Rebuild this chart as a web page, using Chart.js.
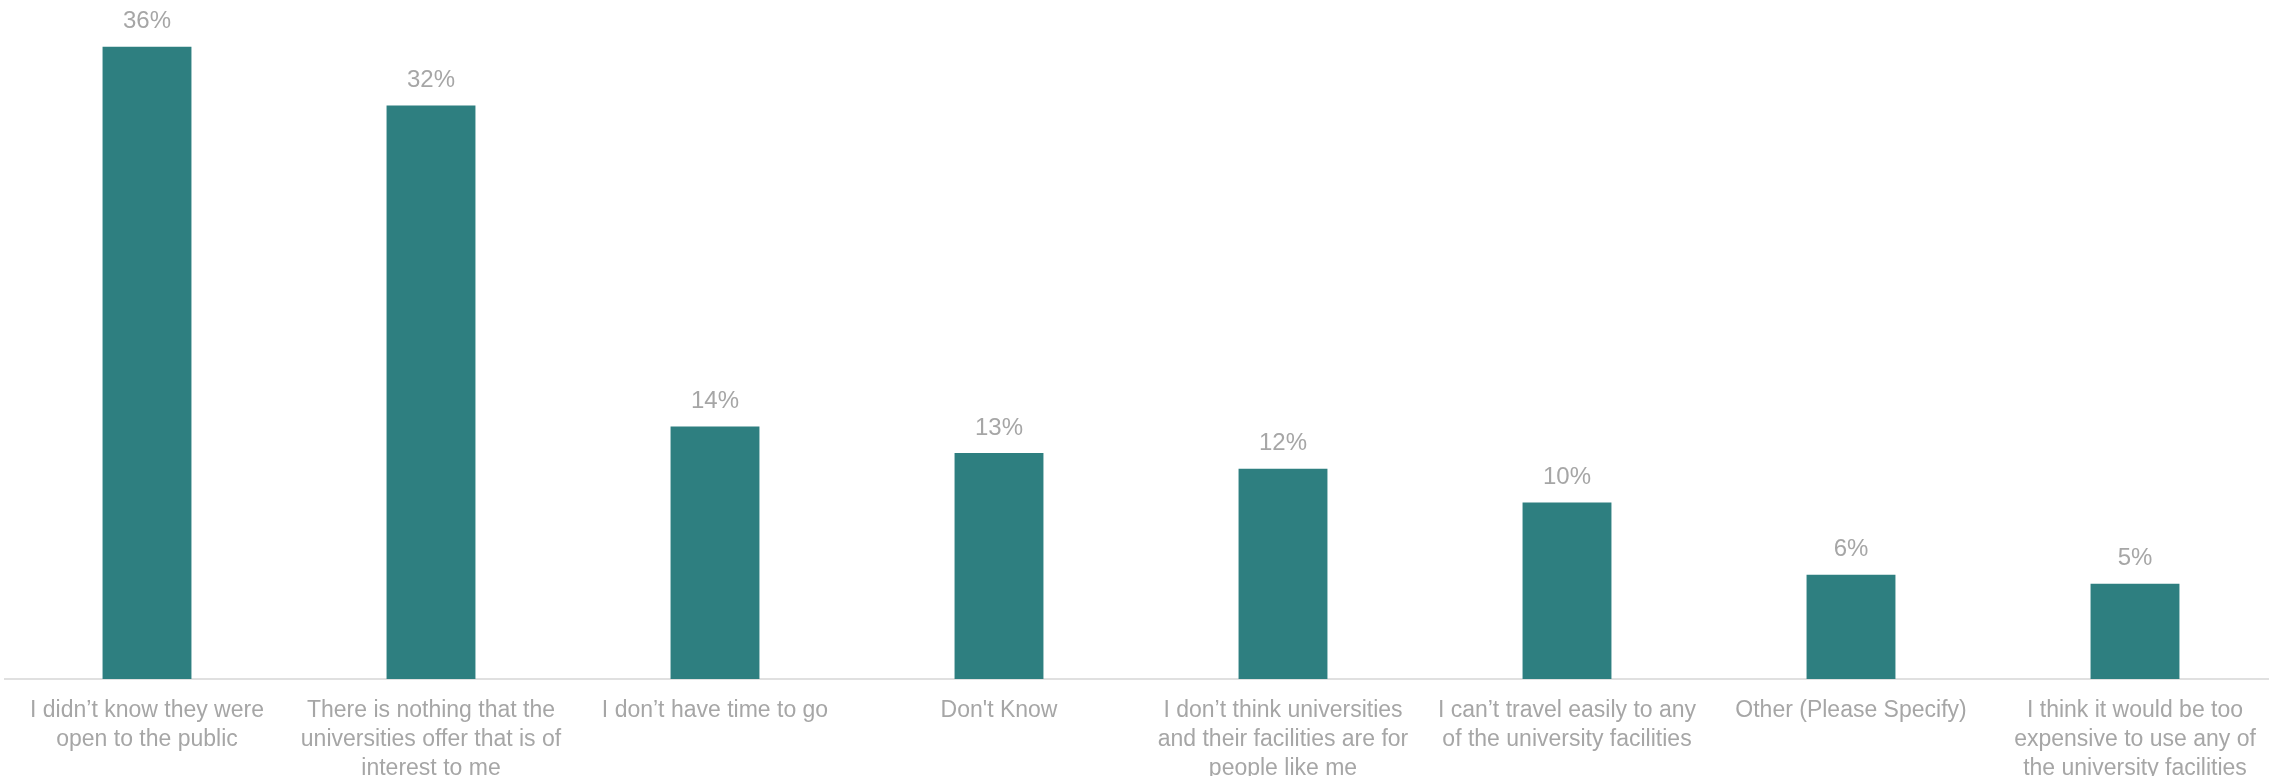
<!DOCTYPE html>
<html>
<head>
<meta charset="utf-8">
<title>Reasons for not using university facilities</title>
<script src="https://cdn.jsdelivr.net/npm/chart.js@4/dist/chart.umd.min.js"></script>
<style>
  html, body { margin: 0; padding: 0; background: #ffffff; overflow: hidden; }
  #wrap { width: 2278px; height: 776px; position: relative; }
</style>
</head>
<body>
<div id="wrap"><canvas id="reasonsChart"></canvas></div>

<script>

var categories = [
  ["I didn\u2019t know they were", "open to the public"],
  ["There is nothing that the", "universities offer that is of", "interest to me"],
  ["I don\u2019t have time to go"],
  ["Don't Know"],
  ["I don\u2019t think universities", "and their facilities are for", "people like me"],
  ["I can\u2019t travel easily to any", "of the university facilities"],
  ["Other (Please Specify)"],
  ["I think it would be too", "expensive to use any of", "the university facilities"]
];

var percentValues = [35.8, 32.48, 14.3, 12.8, 11.9, 10.0, 5.9, 5.4];

var yTicks = [0, 38];

var barColor = "#2e7f80";
var textColor = "#a6a6a6";

// writes the % over each bar
var valueLabels = {
  id: "valueLabels",
  afterDatasetsDraw: function(chart) {
    var ctx = chart.ctx;
    var meta = chart.getDatasetMeta(0);

    ctx.save();
    ctx.font = "24px 'Liberation Sans', Arial, sans-serif";
    ctx.fillStyle = textColor;
    ctx.textAlign = "center";
    ctx.textBaseline = "middle";

    for (var i = 0; i < meta.data.length; i++) {
      var bar = meta.data[i];
      var val = chart.data.datasets[0].data[i];
      ctx.fillText(Math.round(val) + "%", bar.x, bar.y - 25);
    }
    ctx.restore();
  }
};

function printBarChart() {

  var ctx = document.getElementById("reasonsChart").getContext("2d");
  var chart = new Chart(ctx, {

    type: "bar",

    data: {
      labels: categories,
      datasets: [{
        data: percentValues,
        backgroundColor: barColor,
        borderWidth: 0,
        barPercentage: 0.313,
        categoryPercentage: 1
      }]
    },

    options: {
      responsive: true,
      maintainAspectRatio: false,
      animation: false,
      layout: { padding: { left: 5, right: 1, top: 8, bottom: 0 } },
      plugins: {
        legend: { display: false },
        tooltip: { enabled: false }
      },
      scales: {
        x: {
          grid: { display: false, drawTicks: false },
          border: { display: true, color: "#e0e0e0", width: 2 },
          ticks: {
            color: textColor,
            font: { family: "'Liberation Sans', Arial, sans-serif", size: 23, lineHeight: 1.27 },
            padding: 17,
            maxRotation: 0,
            minRotation: 0,
            autoSkip: false
          },
          afterFit: function(scale) {
            scale.height = 97;
          }
        },
        y: {
          display: false,
          min: yTicks[0],
          max: yTicks[1]
        }
      }
    },

    plugins: [valueLabels]
  });
}

function init() {
  printBarChart();
}

window.onload = init;

</script>
</body>
</html>
